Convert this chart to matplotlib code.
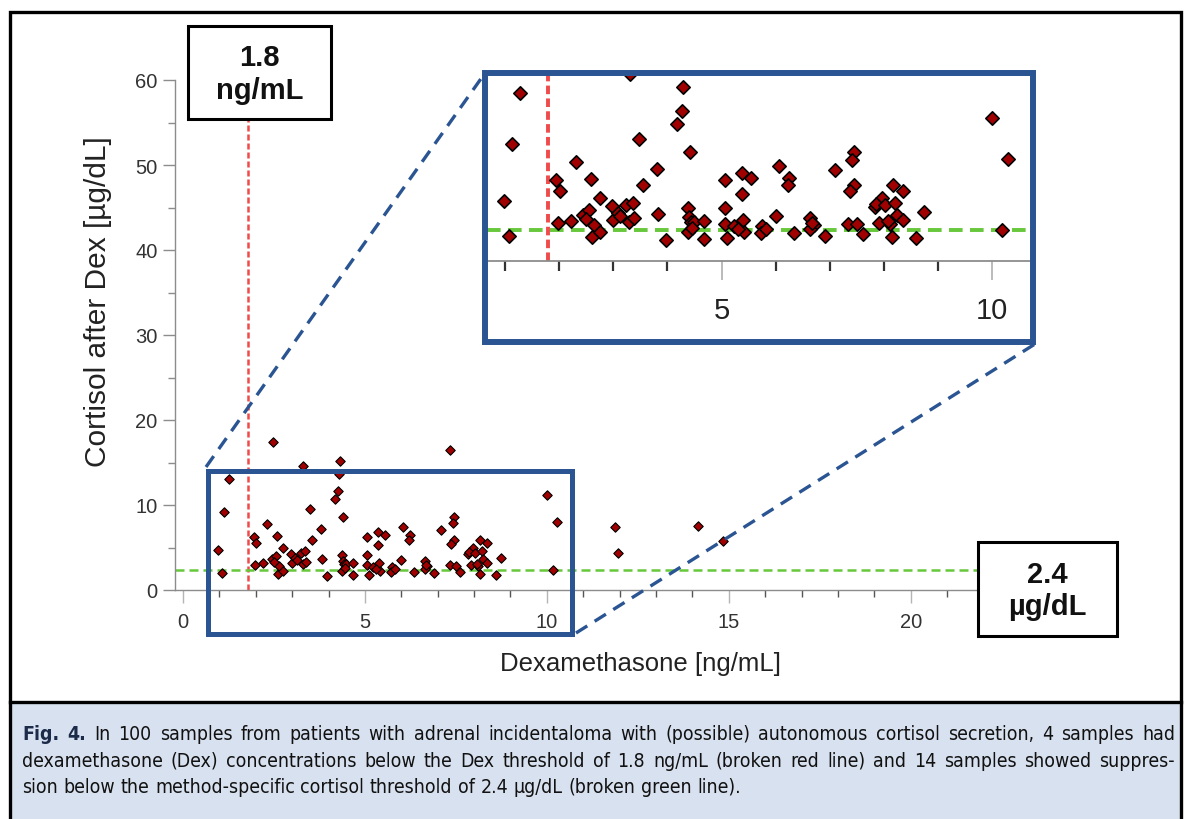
import matplotlib
matplotlib.use('Agg')
import matplotlib.pyplot as plt
from matplotlib.patches import Rectangle
from matplotlib.lines import Line2D
from matplotlib import font_manager

W, H = 1185, 820

# ── data ─────────────────────────────────────────────────────────────────────
dex = [0.97, 1.08, 1.12, 1.27,
       1.94, 2.02, 1.97, 2.21, 2.31, 2.44, 2.55, 2.58, 2.60, 2.65, 2.75, 2.75, 2.48,
       2.98, 3.00, 3.08, 3.23, 3.36, 3.29, 3.38, 3.30, 3.48, 3.54, 3.80, 3.83, 3.97,
       4.18, 4.27, 4.29, 4.31, 4.41, 4.38, 4.39, 4.43, 4.38, 4.49, 4.67, 4.68,
       5.07, 5.06, 5.07, 5.11, 5.23, 5.37, 5.37, 5.39, 5.42, 5.55, 5.75, 5.73, 5.83,
       6.00, 6.06, 6.25, 6.22, 6.34, 6.64, 6.70, 6.64, 6.91,
       7.10, 7.45, 7.41, 7.44, 7.37, 7.33, 7.51, 7.62, 7.34,
       7.83, 7.97, 7.86, 8.02, 7.91, 8.12, 8.17, 8.21, 8.25, 8.35, 8.36, 8.15, 8.59, 8.75,
       10.00, 10.29, 10.18,
       11.87, 11.96, 14.16, 14.84,
       2.50, 3.12, 4.45, 5.30, 6.67, 8.08]
cortisol = [4.66, 1.97, 9.13, 13.1,
            6.29, 5.50, 3.00, 3.13, 7.74, 3.60, 4.00, 6.37, 1.89, 2.82, 2.29, 4.92, 17.45,
            4.26, 3.21, 3.74, 4.39, 4.53, 3.08, 3.34, 14.6, 9.53, 5.92, 7.16, 3.66, 1.63,
            10.7, 11.7, 13.6, 15.2, 8.55, 4.13, 3.47, 3.03, 2.29, 3.03, 3.13, 1.71,
            6.29, 4.13, 2.92, 1.82, 2.71, 6.87, 5.24, 3.21, 2.24, 6.50, 2.76, 2.16, 2.50,
            3.55, 7.42, 6.45, 5.92, 2.16, 3.39, 2.82, 2.50, 1.95,
            7.08, 8.53, 7.87, 5.92, 5.45, 2.92, 2.87, 2.10, 16.5,
            4.18, 4.92, 4.45, 4.34, 2.95, 2.87, 5.92, 4.53, 3.60, 3.21, 5.50, 1.84, 1.82, 3.82,
            11.18, 7.97, 2.39,
            7.45, 4.35, 7.57, 5.80,
            3.30, 3.50, 2.60, 2.50, 3.00, 3.10]

dex_cut = 1.8
cort_cut = 2.4

x_major = [0, 5, 10, 15, 20]
y_major = [0, 10, 20, 30, 40, 50, 60]
inset_major = [5, 10]

caption = [
    "Fig. 4. In 100 samples from patients with adrenal incidentaloma with (possible) autonomous cortisol secretion, 4 samples had",
    "dexamethasone (Dex) concentrations below the Dex threshold of 1.8 ng/mL (broken red line) and 14 samples showed suppres-",
    "sion below the method-specific cortisol threshold of 2.4 \u00b5g/dL (broken green line).",
]

# ── fonts / colours ───────────────────────────────────────────────────────────
PLOT_FONT = 'Liberation Sans'
names = {f.name for f in font_manager.fontManager.ttflist}
if 'Liberation Sans Narrow' in names:
    CAP_FONT, CAP_STRETCH = 'Liberation Sans Narrow', 'normal'
else:
    CAP_FONT, CAP_STRETCH = 'DejaVu Sans', 'condensed'
plt.rcParams['font.family'] = [PLOT_FONT, 'DejaVu Sans']

PT_RED = '#a00000'
NAVY = '#2a5592'
RED = '#f04a4a'
GREEN = '#66c83a'
GREY = '#8c8c8c'


def fx(px):
    return px / W


def fy(py):
    return 1 - py / H


fig = plt.figure(figsize=(W / 100, H / 100), dpi=100)
fig.patch.set_facecolor('white')

# ── main axes ─────────────────────────────────────────────────────────────────
ax = fig.add_axes([fx(175), fy(591), (1038 - 175) / W, 510 / H])
ax.set_xlim(-0.22, 23.5)
ax.set_ylim(0, 60)
for s in ('top', 'right'):
    ax.spines[s].set_visible(False)
ax.spines['left'].set_bounds(0, 60)
for s in ('left', 'bottom'):
    ax.spines[s].set_color(GREY)
    ax.spines[s].set_linewidth(1.0)

ax.set_xticks(x_major)
ax.set_xticks(range(0, 24), minor=True)
ax.set_yticks(y_major)
ax.set_yticks(range(5, 60, 10), minor=True)
ax.tick_params(axis='x', which='major', length=9.5, width=1, color='#b5b5b5',
               labelsize=14.5, labelcolor='#333333', pad=6)
ax.tick_params(axis='x', which='minor', length=5, width=1, color='#555555')
ax.tick_params(axis='y', which='major', length=8.5, width=1, color=GREY,
               labelsize=14.5, labelcolor='#333333', pad=4)
ax.tick_params(axis='y', which='minor', length=5, width=1, color=GREY)

ax.vlines(dex_cut, 0, 55.4, colors=RED, lw=1.8, linestyles=(0, (2.4, 1.2)),
          zorder=2, clip_on=False)
ax.hlines(cort_cut, -0.22, 21.84, colors=GREEN, lw=1.8,
          linestyles=(0, (3.6, 2.0)), zorder=2, clip_on=False)
ax.scatter(dex, cortisol, marker='D', s=4.8 ** 2, c=PT_RED,
           edgecolors='black', linewidths=0.8, zorder=3)

# zoom selection box (data coords of the enlarged region)
ax.add_patch(Rectangle((0.70, -5.2), 10.0, 19.2, fill=False, ec=NAVY,
                       lw=3.6, zorder=4, clip_on=False))

fig.text(fx(98), fy(302), 'Cortisol after Dex [\u00b5g/dL]', rotation=90,
         ha='center', va='center', fontsize=21.5, color='#222222')
fig.text(fx(640), fy(664), 'Dexamethasone [ng/mL]', ha='center', va='center',
         fontsize=18.5, color='#222222')

# ── inset (enlarged view) ─────────────────────────────────────────────────────
axin = fig.add_axes([fx(487), fy(340), (1031 - 487) / W, (340 - 77) / H])
axin.set_zorder(0.5)
axin.set_facecolor('white')
axin.set_xlim(0.665, 10.72)
axin.set_ylim(-6.09, 14.45)
for s in ('top', 'right', 'left'):
    axin.spines[s].set_visible(False)
axin.spines['bottom'].set_position(('data', 0))
axin.spines['bottom'].set_color(GREY)
axin.spines['bottom'].set_linewidth(1.3)
axin.set_yticks([])
axin.set_xticks(inset_major)
axin.set_xticks(range(1, 11), minor=True)
axin.tick_params(axis='x', which='major', length=13.5, width=1.3, color='#b5b5b5',
                 labelsize=21, labelcolor='#222222', pad=12)
axin.tick_params(axis='x', which='minor', length=7, width=1.6, color='#333333')
y0 = 6.09 / (6.09 + 14.45)
axin.axvline(dex_cut, ymin=y0, ymax=1, color=RED, lw=2.8,
             linestyle=(0, (2.2, 1.1)), zorder=2)
axin.axhline(cort_cut, color=GREEN, lw=2.8, linestyle=(0, (3.5, 1.9)), zorder=2)
axin.scatter(dex, cortisol, marker='D', s=6.8 ** 2, c=PT_RED,
             edgecolors='black', linewidths=1.2, zorder=3)

fig.patches.append(Rectangle((fx(485), fy(343)), 548 / W, 269 / H, fill=False,
                             ec=NAVY, lw=4.3, transform=fig.transFigure,
                             figure=fig, zorder=3))

# dashed connectors
for (x1, y1), (x2, y2) in [((206, 468), (485, 74)), ((576, 634), (1035, 345))]:
    fig.lines.append(Line2D([fx(x1), fx(x2)], [fy(y1), fy(y2)], color=NAVY,
                            lw=2.4, linestyle=(0, (4, 2.6)),
                            transform=fig.transFigure, figure=fig, zorder=2))

# ── threshold label boxes ─────────────────────────────────────────────────────
for (l, t, r, b), label in [((188, 27, 331, 120), '1.8\nng/mL'),
                            ((978, 543, 1117, 637), '2.4\n\u00b5g/dL')]:
    fig.patches.append(Rectangle((fx(l), fy(b)), (r - l) / W, (b - t) / H,
                                 fc='white', ec='black', lw=2.2,
                                 transform=fig.transFigure, figure=fig, zorder=3))
    fig.text(fx((l + r) / 2), fy((t + b) / 2 + 1), label, ha='center',
             va='center', fontsize=21, fontweight='bold', color='#111111',
             zorder=4, linespacing=1.2)

# ── outer frame and caption panel ─────────────────────────────────────────────
fig.patches.append(Rectangle((fx(10), fy(830)), (1181 - 10) / W, 817 / H,
                             fill=False, ec='black', lw=2.4,
                             transform=fig.transFigure, figure=fig, zorder=5))
fig.patches.append(Rectangle((fx(10), fy(830)), (1181 - 10) / W, 127 / H,
                             fc='#d8e1ef', ec='none',
                             transform=fig.transFigure, figure=fig, zorder=1))
fig.lines.append(Line2D([fx(10), fx(1181)], [fy(703), fy(703)], color='black',
                        lw=2.4, transform=fig.transFigure, figure=fig, zorder=5))

renderer = fig.canvas.get_renderer()


def text_w(s, size, weight):
    t = fig.text(0, 0, s, fontsize=size, fontweight=weight, family=CAP_FONT,
                 fontstretch=CAP_STRETCH)
    w = t.get_window_extent(renderer).width
    t.remove()
    return w


left, right = 22, 1175
baselines = [740, 767, 793]


def line_parts(i, size):
    words = caption[i].split(' ')
    weights = ['bold' if (i == 0 and k < 2) else 'normal' for k in range(len(words))]
    widths = [text_w(w_, size, wt) for w_, wt in zip(words, weights)]
    return words, weights, widths


# size chosen so that the first line nearly fills the panel with plain spaces
w10, _, wd10 = line_parts(0, 10)
sp10 = text_w('a a', 10, 'normal') - text_w('aa', 10, 'normal')
natural10 = sum(wd10) + sp10 * (len(w10) - 1)
cap_size = 10 * 1110 / natural10
space_w = sp10 * cap_size / 10

for i in range(len(caption)):
    words, weights, widths = line_parts(i, cap_size)
    if i < 2:
        gap = (right - left - sum(widths)) / (len(words) - 1)
    else:
        gap = space_w
    x = left
    for w_, wt, wd in zip(words, weights, widths):
        fig.text(fx(x), fy(baselines[i]), w_, fontsize=cap_size, fontweight=wt,
                 family=CAP_FONT, fontstretch=CAP_STRETCH, va='baseline',
                 ha='left', color='#1c2b4a' if wt == 'bold' else '#111111',
                 zorder=6)
        x += wd + gap

fig.savefig('out.png', dpi=100, facecolor='white')
